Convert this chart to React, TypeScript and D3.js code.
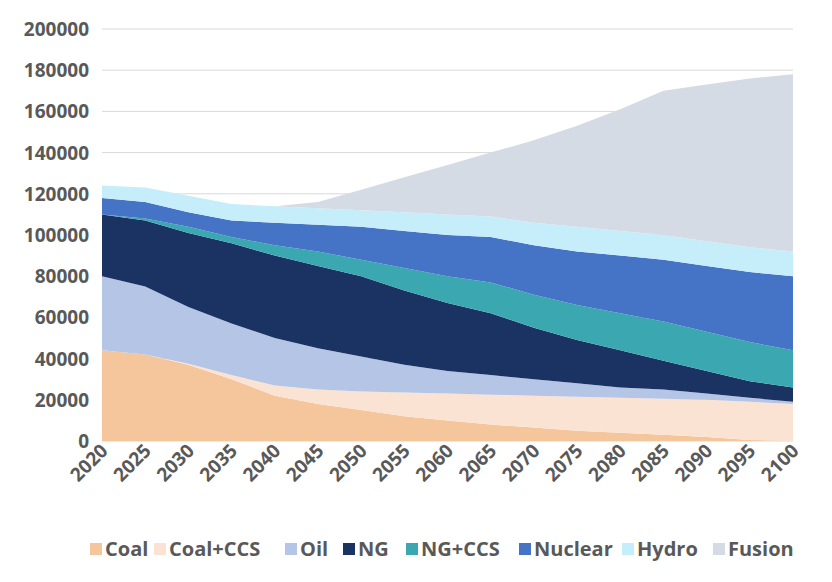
import React from "react";
import * as d3 from "d3";

const years = [2020,2025,2030,2035,2040,2045,2050,2055,2060,2065,2070,2075,2080,2085,2090,2095,2100];
const seriesNames = ["Coal","Coal+CCS","Oil","NG","NG+CCS","Nuclear","Hydro","Fusion"];
const coal = [44000,42000,37000,30000,22000,18000,15000,12000,10000,8000,6500,5000,4000,3000,2000,500,0];
const coalCCS = [0,0,500,2000,5000,7000,9000,11500,13000,14500,15500,16500,17000,17500,18000,18500,18000];
const oil = [36000,33000,27500,25000,23000,20000,17000,13500,11000,9500,8000,6500,5000,4500,3000,2000,1000];
const ng = [30000,32000,36000,39000,40000,40000,39000,36000,33000,30000,25000,21000,18000,14000,11000,8000,7000];
const ngCCS = [0,1000,3000,3000,5000,7000,8000,11000,13000,15000,16000,17000,18000,19000,19000,19000,18000];
const nuclear = [8000,8000,7000,8000,11000,13000,16000,18000,20000,22000,24000,26000,28000,30000,32000,34000,36000];
const hydro = [6000,7000,8000,8000,8000,8000,8000,9000,10000,10000,11000,12000,12000,12000,12000,12000,12000];
const fusion = [0,0,0,0,0,3000,10000,17000,24000,31000,40000,49000,59000,70000,76000,82000,86000];
const yTicks = [0,20000,40000,60000,80000,100000,120000,140000,160000,180000,200000];
const colors = ["#f5c59c","#fbe3d3","#b5c5e5","#1b3363","#3ba7b1","#4573c5","#c6eefa","#d5dbe4"];

export default function App() {
  const all = [coal, coalCCS, oil, ng, ngCCS, nuclear, hydro, fusion];
  const rows = years.map((y, i) => {
    const r: any = { year: y };
    seriesNames.forEach((n, k) => (r[n] = all[k][i]));
    return r;
  });
  const stacked = d3.stack().keys(seriesNames)(rows);
  const x = d3.scaleLinear().domain([2020, 2100]).range([102, 793]);
  const y = d3.scaleLinear().domain([0, 200000]).range([441, 29]);
  const area = d3.area<any>().x((d) => x(d.data.year)).y0((d) => y(d[0])).y1((d) => y(d[1]));
  const legendX = [90, 154, 285, 343, 406, 519, 622, 713];
  return (
    <svg width={832} height={582} style={{ position: "absolute", left: 0, top: 0, background: "#fff", fontFamily: "'Open Sans', 'Noto Sans', sans-serif" }}>
      {yTicks.map((t) => (
        <line key={t} x1={102} x2={793} y1={y(t)} y2={y(t)} stroke="#d9d9d9" strokeWidth={1} />
      ))}
      {stacked.map((s, k) => (
        <path key={k} d={area(s as any) || ""} fill={colors[k]} />
      ))}
      {yTicks.map((t) => (
        <text key={t} x={89} y={y(t) + 7} textAnchor="end" fontSize={19} fontWeight="bold" fill="#595959">{t}</text>
      ))}
      {years.map((yr) => (
        <text key={yr} transform={`translate(${x(yr) + 7},${452}) rotate(-45)`} textAnchor="end" fontSize={19} fontWeight="bold" fill="#595959">{yr}</text>
      ))}
      {seriesNames.map((n, k) => (
        <g key={n} transform={`translate(${legendX[k]},549)`}>
          <rect x={0} y={-6} width={12} height={12} fill={colors[k]} />
          <text x={15} y={7} fontSize={20} fontWeight="bold" fill="#595959">{n}</text>
        </g>
      ))}
    </svg>
  );
}
